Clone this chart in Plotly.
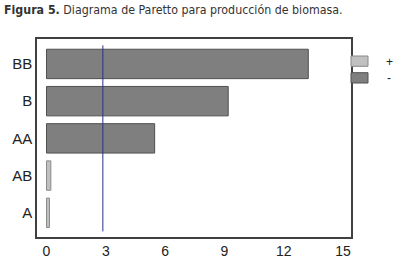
import plotly.graph_objects as go

# Data
factors = ["A", "AB", "AA", "B", "BB"]
effects = [0.15, 0.22, 5.47, 9.19, 13.24]
signs = ["+", "+", "-", "-", "-"]
critical_value = 2.85
x_ticks = [0, 3, 6, 9, 12, 15]

fill_map = {"+": "#c0c0c0", "-": "#7f7f7f"}
line_map = {"+": "#8a8a8a", "-": "#505050"}

L, R, T, B = 37, 49, 39, 37
W, H = 400, 274
PW, PH = W - L - R, H - T - B

def px(xp):
    return (xp - L) / PW

def py(yp):
    return (H - B - yp) / PH

fig = go.Figure()
fig.add_trace(go.Bar(
    y=factors, x=effects, orientation="h",
    marker=dict(color=[fill_map[s] for s in signs],
                line=dict(color=[line_map[s] for s in signs], width=1)),
    width=0.79, showlegend=False, hoverinfo="skip",
))

# reference line
fig.add_shape(type="line", xref="x", yref="y",
              x0=critical_value, x1=critical_value, y0=-0.5, y1=4.5,
              line=dict(color="#2e2e8c", width=1))

# manual legend
legend_items = [("+", "+"), ("-", "-")]
for i, (lab, s) in enumerate(legend_items):
    top = 56 + i * 16.7
    fig.add_shape(type="rect", xref="paper", yref="paper",
                  x0=px(351), x1=px(368), y0=py(top + 10.3), y1=py(top),
                  fillcolor=fill_map[s], line=dict(color=line_map[s], width=1))
    fig.add_annotation(xref="paper", yref="paper",
                       x=px(389), y=py(top + 5.5),
                       text=lab, showarrow=False, xanchor="center", yanchor="middle",
                       font=dict(family="Liberation Sans, Arial", size=12, color="#222222"))

fig.update_layout(
    width=W, height=H,
    margin=dict(l=L, r=R, t=T, b=B, autoexpand=False),
    paper_bgcolor="white", plot_bgcolor="white",
    title=dict(
        text="<b>Figura 5.</b> Diagrama de Paretto para producción de biomasa.",
        x=0.01, xanchor="left", xref="container",
        y=1 - 10 / 274, yanchor="middle", yref="container",
        font=dict(family="DejaVu Sans Condensed, Liberation Sans Narrow, sans-serif", size=12.3, color="#333333"),
    ),
    xaxis=dict(range=[-0.48, 15.4], tickvals=x_ticks, showgrid=False, zeroline=False,
               showline=True, linecolor="#404040", linewidth=1.5, mirror=True,
               ticks="", ticklabelstandoff=0, automargin=False,
               tickfont=dict(family="Liberation Sans, Arial", size=14, color="#222222")),
    yaxis=dict(range=[-0.65, 4.67], categoryorder="array", categoryarray=factors,
               showgrid=False, zeroline=False,
               showline=True, linecolor="#404040", linewidth=1.5, mirror=True,
               ticks="", ticklabelstandoff=0, automargin=False,
               tickfont=dict(family="Liberation Sans, Arial", size=15, color="#222222")),
)

fig.write_html("out.html", config={"displayModeBar": False},
               post_script="document.body.style.margin='0';document.body.style.padding='0';")
